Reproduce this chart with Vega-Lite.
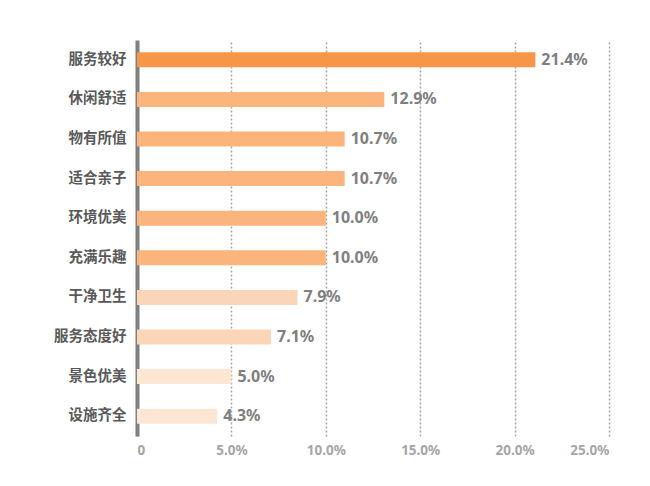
{
  "$schema": "https://vega.github.io/schema/vega-lite/v6.json",
  "width": 472,
  "height": 396,
  "autosize": "none",
  "padding": {"left": 137, "top": 40, "right": 41, "bottom": 50},
  "background": "white",
  "data": {
    "values": [
      {"item": "服务较好", "share": 0.211, "label": "21.4%", "tier": "a"},
      {"item": "休闲舒适", "share": 0.131, "label": "12.9%", "tier": "b"},
      {"item": "物有所值", "share": 0.110, "label": "10.7%", "tier": "b"},
      {"item": "适合亲子", "share": 0.110, "label": "10.7%", "tier": "b"},
      {"item": "环境优美", "share": 0.100, "label": "10.0%", "tier": "b"},
      {"item": "充满乐趣", "share": 0.100, "label": "10.0%", "tier": "b"},
      {"item": "干净卫生", "share": 0.085, "label": "7.9%", "tier": "c"},
      {"item": "服务态度好", "share": 0.071, "label": "7.1%", "tier": "c"},
      {"item": "景色优美", "share": 0.050, "label": "5.0%", "tier": "d"},
      {"item": "设施齐全", "share": 0.0425, "label": "4.3%", "tier": "d"}
    ]
  },
  "encoding": {
    "y": {
      "field": "item",
      "type": "nominal",
      "sort": null,
      "title": null,
      "scale": {"paddingInner": 0.62, "paddingOuter": 0.31},
      "axis": {
        "domainColor": "#7f7f7f",
        "domainWidth": 4,
        "ticks": false,
        "labelPadding": 11,
        "labelFont": "Noto Sans CJK SC",
        "labelFontSize": 14.5,
        "labelFontWeight": "bold",
        "labelColor": "#595959"
      }
    },
    "x": {
      "field": "share",
      "type": "quantitative",
      "title": null,
      "scale": {"domain": [0, 0.25], "nice": false},
      "axis": {
        "values": [0, 0.05, 0.1, 0.15, 0.2, 0.25],
        "labelExpr": "datum.value == 0 ? '0' : format(datum.value, '.1%')",
        "domain": false,
        "ticks": false,
        "grid": true,
        "gridColor": "#a6a6a6",
        "gridDash": [2, 2],
        "gridWidth": 1.5,
        "labelPadding": 7,
        "labelFont": "Noto Sans",
        "labelFontSize": 13.5,
        "labelColor": "#a6a6a6",
        "labelFontWeight": "bold"
      }
    }
  },
  "layer": [
    {
      "mark": {"type": "bar"},
      "encoding": {
        "color": {
          "field": "tier",
          "type": "nominal",
          "legend": null,
          "scale": {
            "domain": ["a", "b", "c", "d"],
            "range": ["#F79646", "#FAB47C", "#FBD5B7", "#FDE6D4"]
          }
        }
      }
    },
    {
      "mark": {
        "type": "text",
        "align": "left",
        "dx": 6,
        "font": "Noto Sans",
        "fontSize": 16,
        "fontWeight": "bold",
        "color": "#7f7f7f"
      },
      "encoding": {
        "text": {"field": "label", "type": "nominal"}
      }
    }
  ],
  "config": {
    "view": {"stroke": null}
  }
}
